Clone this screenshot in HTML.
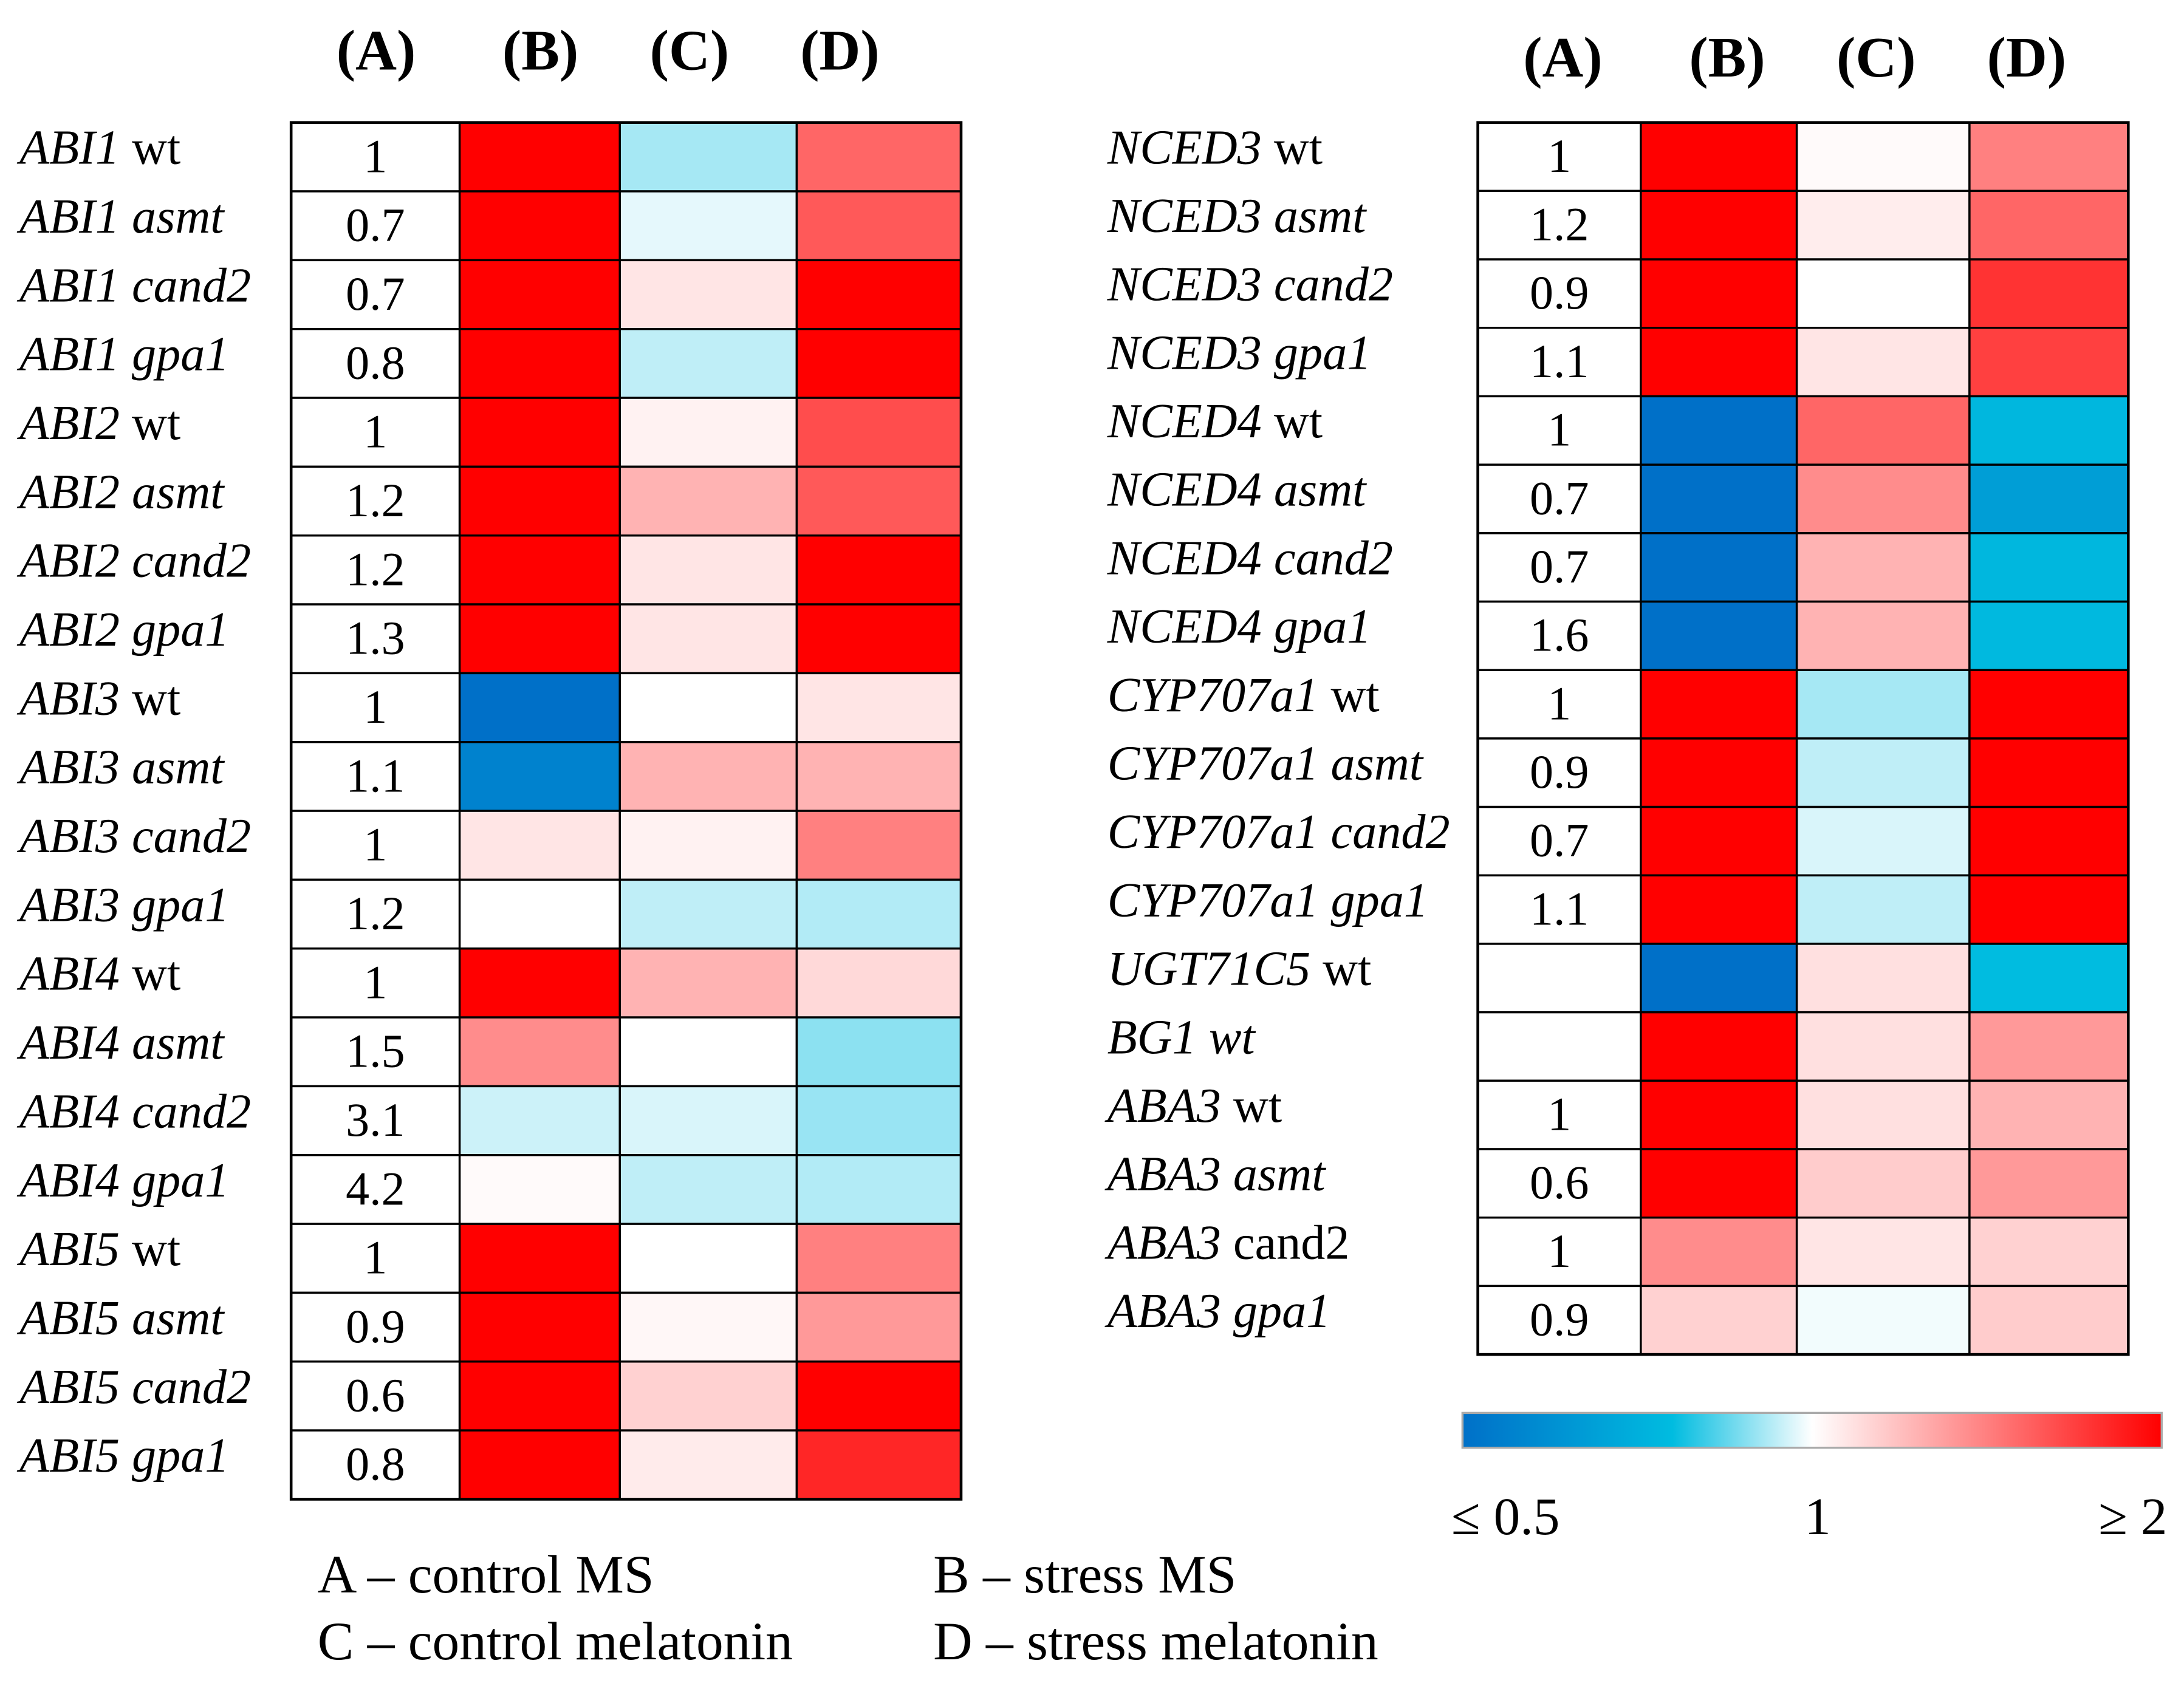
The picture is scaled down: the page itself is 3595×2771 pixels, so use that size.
<!DOCTYPE html>
<html><head><meta charset="utf-8"><style>
html,body{margin:0;padding:0;background:#fff;}
svg{display:block;}
text{font-family:"Liberation Serif",serif;fill:#000;}
</style></head><body>
<svg id="chart" width="3595" height="2771" viewBox="0 0 1568 1209" preserveAspectRatio="none" xmlns="http://www.w3.org/2000/svg">
<defs>
<linearGradient id="cbar" x1="0" x2="1" y1="0" y2="0">
<stop offset="0" stop-color="#0070C8"/><stop offset="0.3" stop-color="#00BCE0"/><stop offset="0.5" stop-color="#FFFFFF"/><stop offset="1" stop-color="#FF0000"/>
</linearGradient>
</defs>
<g id="left"></g>
<g id="right"></g>
<rect x="1050" y="1015" width="502" height="25" fill="url(#cbar)" stroke="#aaa" stroke-width="1.5"/>
<text x="1042" y="1102" font-size="38">≤ 0.5</text>
<text x="1305" y="1102" font-size="38" text-anchor="middle">1</text>
<text x="1556" y="1102" font-size="38" text-anchor="end">≥ 2</text>
<text x="228" y="1144" font-size="39">A – control MS</text>
<text x="670" y="1144" font-size="39">B – stress MS</text>
<text x="228" y="1192" font-size="39">C – control melatonin</text>
<text x="670" y="1192" font-size="39">D – stress melatonin</text>
</svg>
<script>
const headers = ["(A)","(B)","(C)","(D)"];
const leftGenes = [["ABI1","wt"],["ABI1","asmt"],["ABI1","cand2"],["ABI1","gpa1"],["ABI2","wt"],["ABI2","asmt"],["ABI2","cand2"],["ABI2","gpa1"],["ABI3","wt"],["ABI3","asmt"],["ABI3","cand2"],["ABI3","gpa1"],["ABI4","wt"],["ABI4","asmt"],["ABI4","cand2"],["ABI4","gpa1"],["ABI5","wt"],["ABI5","asmt"],["ABI5","cand2"],["ABI5","gpa1"]];
const leftA = ["1","0.7","0.7","0.8","1","1.2","1.2","1.3","1","1.1","1","1.2","1","1.5","3.1","4.2","1","0.9","0.6","0.8"];
const leftB = [2,2,2,2,2,2,2,2,0.5,0.57,1.1,1.0,2,1.45,0.96,1.02,2,2,2,2];
const leftC = [0.93,0.98,1.1,0.95,1.05,1.3,1.1,1.1,1.0,1.3,1.05,0.95,1.3,1.0,0.97,0.95,1.0,1.03,1.18,1.08];
const leftD = [1.6,1.65,2,2,1.7,1.65,2,2,1.1,1.3,1.5,0.94,1.15,0.91,0.92,0.94,1.5,1.4,2,1.85];
const rightGenes = [["NCED3","wt"],["NCED3","asmt"],["NCED3","cand2"],["NCED3","gpa1"],["NCED4","wt"],["NCED4","asmt"],["NCED4","cand2"],["NCED4","gpa1"],["CYP707a1","wt"],["CYP707a1","asmt"],["CYP707a1","cand2"],["CYP707a1","gpa1"],["UGT71C5","wt"],["BG1 wt",""],["ABA3","wt"],["ABA3","asmt"],["ABA3","cand2"],["ABA3","gpa1"]];
const rightA = ["1","1.2","0.9","1.1","1","0.7","0.7","1.6","1","0.9","0.7","1.1","","","1","0.6","1","0.9"];
const rightB = [2,2,2,2,0.5,0.5,0.5,0.5,2,2,2,2,0.5,2,2,2,1.45,1.18];
const rightC = [1.02,1.07,1.0,1.1,1.6,1.45,1.3,1.3,0.93,0.95,0.97,0.95,1.12,1.12,1.12,1.2,1.1,0.99];
const rightD = [1.5,1.6,1.8,1.75,0.78,0.68,0.78,0.79,2,2,2,2,0.8,1.4,1.3,1.4,1.18,1.2];

const NS="http://www.w3.org/2000/svg";
function lerp(a,b,t){return Math.round(a+(b-a)*t);}
function colorOf(v){
  let p; if(v<=1){p=Math.max(0,(v-0.5)/0.5)*0.5;} else {p=0.5+Math.min(1,(v-1))*0.5;}
  const stops=[[0,[0,112,200]],[0.3,[0,188,224]],[0.5,[255,255,255]],[1,[255,0,0]]];
  for(let i=0;i<stops.length-1;i++){
    const [p0,c0]=stops[i],[p1,c1]=stops[i+1];
    if(p<=p1){const t=(p-p0)/(p1-p0);return `rgb(${lerp(c0[0],c1[0],t)},${lerp(c0[1],c1[1],t)},${lerp(c0[2],c1[2],t)})`;}
  }
  return "rgb(255,0,0)";
}
function mk(tag,attrs,parent){const e=document.createElementNS(NS,tag);for(const k in attrs)e.setAttribute(k,attrs[k]);parent.appendChild(e);return e;}

function build(g,cfg){
  const {genes,A,B,C,D,colX,top,bottom,labelX,headY,headCx,rightSide}=cfg;
  const n=genes.length, rh=(bottom-top)/n;
  headers.forEach((h,i)=>{
    const t=mk("text",{x:headCx[i],y:headY,"font-size":41,"font-weight":"bold","text-anchor":"middle"},g);
    
    
    t.textContent=h;
  });
  const series=[B,C,D];
  for(let r=0;r<n;r++){
    const y=top+r*rh;
    const ca=mk("rect",{x:colX[0],y:y,width:colX[1]-colX[0],height:rh,fill:"#fff",stroke:"#000","stroke-width":1.5},g);
    
    
    for(let c=0;c<3;c++){
      const rc=mk("rect",{x:colX[c+1],y:y,width:colX[c+2]-colX[c+1],height:rh,fill:colorOf(series[c][r]),stroke:"#000","stroke-width":1.5},g);
      
      
    }
    const tv=mk("text",{x:(colX[0]+colX[1])/2,y:y+rh*0.72,"font-size":34,"text-anchor":"middle"},g);
    
    
    tv.textContent=A[r];
    const tl=mk("text",{x:labelX,y:top+r*rh+rh*0.6,"font-size":35},g);
    
    
    const [gene,suf]=genes[r];
    const s1=mk("tspan",{"font-style":"italic"},tl); s1.textContent=gene;
    if(suf){
      let ital = suf!=="wt";
      if(rightSide && gene==="ABA3" && suf==="cand2") ital=false;
      const s2=mk("tspan",{"font-style":ital?"italic":"normal"},tl); s2.textContent=" "+suf;
    }
  }
  const ob=mk("rect",{x:colX[0],y:top,width:colX[4]-colX[0],height:bottom-top,fill:"none",stroke:"#000","stroke-width":2},g);
  
  
}
build(document.getElementById("left"),{genes:leftGenes,A:leftA,B:leftB,C:leftC,D:leftD,colX:[209,330,445,572,690],top:88,bottom:1077,labelX:14,headY:50,headCx:[270,388,495,603],rightSide:false});
build(document.getElementById("right"),{genes:rightGenes,A:rightA,B:rightB,C:rightC,D:rightD,colX:[1061,1178,1290,1414,1528],top:88,bottom:973,labelX:795,headY:55,headCx:[1122,1240,1347,1455],rightSide:true});
</script>
</body></html>
